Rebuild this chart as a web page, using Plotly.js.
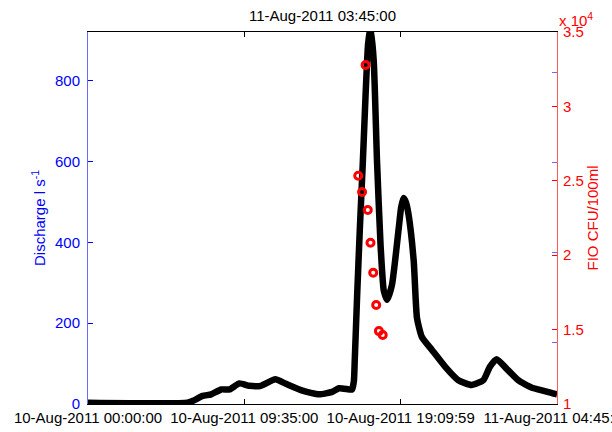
<!DOCTYPE html>
<html>
<head>
<meta charset="utf-8">
<script src="https://cdn.plot.ly/plotly-3.0.1.min.js"></script>
<style>
  html, body { margin: 0; padding: 0; background: #fff; }
  #chart { width: 612px; height: 432px; }
</style>
</head>
<body>
<div id="chart"></div>
<script>
// Stream discharge (l/s) through the storm event
const dischargeTimes = [
  '2011-08-10 00:00', '2011-08-10 06:06', '2011-08-10 06:26', '2011-08-10 07:02',
  '2011-08-10 07:33', '2011-08-10 08:10', '2011-08-10 08:40', '2011-08-10 09:17',
  '2011-08-10 09:53', '2011-08-10 10:36', '2011-08-10 11:29', '2011-08-10 12:08',
  '2011-08-10 13:09', '2011-08-10 14:10', '2011-08-10 14:58', '2011-08-10 15:23',
  '2011-08-10 16:00', '2011-08-10 16:11', '2011-08-10 16:18', '2011-08-10 16:21',
  '2011-08-10 16:30', '2011-08-10 16:40', '2011-08-10 16:51', '2011-08-10 17:01',
  '2011-08-10 17:10', '2011-08-10 17:19', '2011-08-10 17:31', '2011-08-10 17:43',
  '2011-08-10 17:56', '2011-08-10 18:08', '2011-08-10 18:20', '2011-08-10 18:38',
  '2011-08-10 19:03', '2011-08-10 19:12', '2011-08-10 19:21', '2011-08-10 19:30',
  '2011-08-10 19:39', '2011-08-10 19:58',
  '2011-08-10 20:10', '2011-08-10 20:28', '2011-08-10 21:05', '2011-08-10 21:54',
  '2011-08-10 22:42', '2011-08-10 23:31', '2011-08-11 00:14', '2011-08-11 00:38',
  '2011-08-11 01:03', '2011-08-11 01:33', '2011-08-11 02:22', '2011-08-11 03:11',
  '2011-08-11 04:00', '2011-08-11 04:38', '2011-08-11 04:45'
];
const dischargeValues = [
  3, 3, 8, 20,
  24, 36, 36, 51,
  45, 45, 61, 50,
  33, 24, 30, 39,
  36, 36, 57, 106,
  271, 436, 601, 766,
  890, 935, 849, 602,
  394, 280, 258, 295,
  436, 488, 510, 498,
  469, 354,
  213, 166, 134, 92,
  59, 47, 59, 92,
  111, 92, 59, 41,
  32, 25, 24
];

// Faecal indicator organism samples (CFU/100ml)
const fioTimes = [
  '2011-08-10 16:34', '2011-08-10 16:48', '2011-08-10 17:01', '2011-08-10 17:09',
  '2011-08-10 17:19', '2011-08-10 17:29', '2011-08-10 17:40', '2011-08-10 17:50',
  '2011-08-10 18:04'
];
const fioValues = [25340, 24250, 32780, 23040, 20840, 18820, 16650, 14900, 14640];

// Axis ticks
const xTickTimes = ['2011-08-10 00:00:00', '2011-08-10 09:35:00', '2011-08-10 19:09:59', '2011-08-11 04:45:00'];
const xTickLabels = ['10-Aug-2011 00:00:00', '10-Aug-2011 09:35:00', '10-Aug-2011 19:09:59', '11-Aug-2011 04:45:00'];
const fioTickValues = [10000, 15000, 20000, 25000, 30000, 35000];
const fioTickLabels = ['1', '1.5', '2', '2.5', '3', '3.5'];

const FONT = 'Liberation Sans, Arial, sans-serif';
const FS = 15;
const BLUE = '#0000ff';
const RED = '#ff0000';

const traces = [
  {
    x: dischargeTimes, y: dischargeValues,
    type: 'scatter', mode: 'lines',
    line: { color: '#000', width: 6.5, shape: 'spline', smoothing: 0.5 },
    yaxis: 'y', hoverinfo: 'skip'
  },
  {
    x: fioTimes, y: fioValues,
    type: 'scatter', mode: 'markers',
    marker: { symbol: 'circle-open', size: 7, color: RED, line: { color: RED, width: 3 } },
    yaxis: 'y2', cliponaxis: false, hoverinfo: 'skip'
  },
  {
    x: [], y: [], type: 'scatter', mode: 'lines', yaxis: 'y3', hoverinfo: 'skip'
  }
];

const layout = {
  width: 612, height: 432,
  margin: { l: 88, r: 55, t: 32, b: 28 },
  paper_bgcolor: '#fff', plot_bgcolor: '#fff',
  showlegend: false,
  font: { family: FONT, size: FS, color: '#000' },
  title: {
    text: '11-Aug-2011 03:45:00',
    font: { family: FONT, size: FS, color: '#000' },
    xref: 'paper', x: 0.5, xanchor: 'center',
    yref: 'container', y: 0.963, yanchor: 'middle'
  },
  xaxis: {
    type: 'date',
    range: ['2011-08-10 00:00:00', '2011-08-11 04:45:00'],
    tickmode: 'array', tickvals: xTickTimes, ticktext: xTickLabels,
    ticks: 'inside', ticklen: 5, tickwidth: 1, tickcolor: '#000',
    ticklabeloverflow: 'allow',
    showline: true, linecolor: '#000', linewidth: 1, mirror: 'ticks',
    showgrid: false, zeroline: false,
    tickfont: { family: FONT, size: FS, color: '#000' }
  },
  yaxis: {
    range: [0, 921],
    tick0: 0, dtick: 200,
    ticks: 'inside', ticklen: 5, tickwidth: 1, tickcolor: BLUE,
    showline: true, linecolor: '#6a6aff', linewidth: 1,
    showgrid: false, zeroline: false,
    tickfont: { family: FONT, size: FS, color: BLUE },
    ticklabelstandoff: 4,
    title: { text: 'Discharge l s<sup>-1</sup>', font: { family: FONT, size: FS, color: BLUE }, standoff: 5 }
  },
  yaxis2: {
    overlaying: 'y', side: 'right',
    range: [10000, 35000],
    tickmode: 'array', tickvals: fioTickValues, ticktext: fioTickLabels,
    ticks: 'inside', ticklen: 5, tickwidth: 1, tickcolor: RED,
    showline: true, linecolor: '#ff5a5a', linewidth: 1,
    showgrid: false, zeroline: false,
    tickfont: { family: FONT, size: FS, color: RED },
    ticklabelstandoff: 2,
    title: { text: 'FIO CFU/100ml', font: { family: FONT, size: FS, color: RED }, standoff: 4 }
  },
  yaxis3: {
    overlaying: 'y', side: 'right',
    range: [64.4, 891],
    tick0: 0, dtick: 200,
    ticks: 'inside', ticklen: 5, tickwidth: 1, tickcolor: '#6a6aff',
    showticklabels: false, showline: false, showgrid: false, zeroline: false
  },
  annotations: [
    {
      text: 'x 10<sup>4</sup>',
      xref: 'paper', yref: 'paper', x: 1, y: 1,
      xanchor: 'left', yanchor: 'bottom', xshift: 0, yshift: 1,
      showarrow: false,
      font: { family: FONT, size: FS, color: RED }
    }
  ]
};

Plotly.newPlot('chart', traces, layout, { staticPlot: true, displayModeBar: false });
</script>
</body>
</html>
